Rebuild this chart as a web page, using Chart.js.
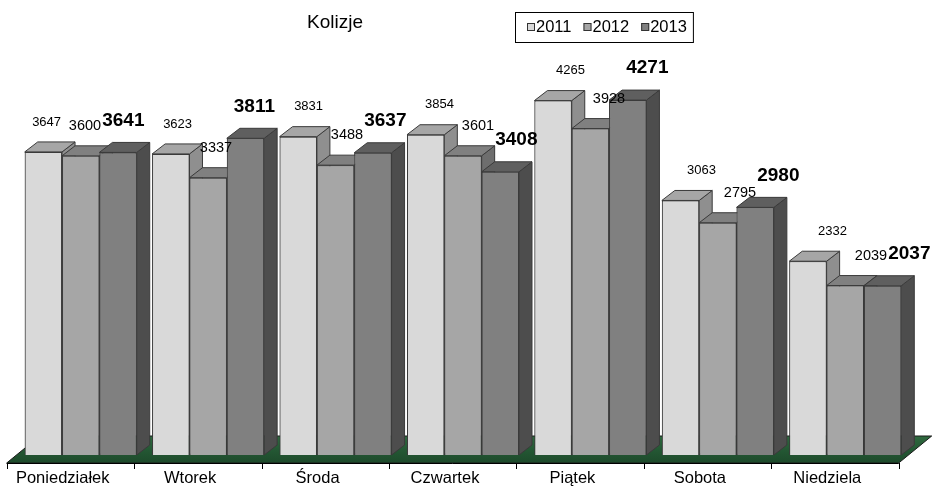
<!DOCTYPE html>
<html>
<head>
<meta charset="utf-8">
<title>Kolizje</title>
<script src="https://cdn.jsdelivr.net/npm/chart.js@4/dist/chart.umd.min.js"></script>
<style>
  html, body { margin: 0; padding: 0; background: #ffffff; }
  #chart { display: block; }
</style>
</head>
<body>
<canvas id="chart" width="936" height="495"></canvas>
<script>
// Collisions per weekday, three years
const titleText = 'Kolizje';
const categories = ['Poniedziałek', 'Wtorek', 'Środa', 'Czwartek', 'Piątek', 'Sobota', 'Niedziela'];
const seriesNames = ['2011', '2012', '2013'];
const values2011 = [3647, 3623, 3831, 3854, 4265, 3063, 2332];
const values2012 = [3600, 3337, 3488, 3601, 3928, 2795, 2039];
const values2013 = [3641, 3811, 3637, 3408, 4271, 2980, 2037];
const axisMin = 0;
const axisMax = 5000;

const FONT = "'Liberation Sans', Arial, sans-serif";

// face colours: front, top, side
const palette = [
  { front: '#d9d9d9', top: '#a6a6a6', side: '#8f8f8f' },
  { front: '#a6a6a6', top: '#808080', side: '#6e6e6e' },
  { front: '#808080', top: '#5f5f5f', side: '#4d4d4d' }
];
const labelFonts = ['13px ' + FONT, '14.5px ' + FONT, 'bold 19px ' + FONT];
const labelLift = [30, 30, 32];

// oblique depth of each column and of the floor
const DEPTH = { dx: 13, dy: 10 };
const FLOOR = { shiftX: -10.3, front: 8, back: 19, depthX: 33 };
const EDGE = '#3a3a3a';

// Floor slab and category axis in front of the columns
const floorPlugin = {
  id: 'floor',
  beforeDatasetsDraw(chart) {
    const { ctx, chartArea } = chart;
    const yScale = chart.scales.y;
    const base = yScale.getPixelForValue(0);
    const l = chartArea.left + FLOOR.shiftX;
    const r = chartArea.right + FLOOR.shiftX;
    const yf = base + FLOOR.front;
    const yb = base - FLOOR.back;
    ctx.save();
    const g = ctx.createLinearGradient(0, yb, 0, yf);
    g.addColorStop(0, '#2f6a3f');
    g.addColorStop(0.5, '#245834');
    g.addColorStop(1, '#1d4a2b');
    ctx.fillStyle = g;
    ctx.beginPath();
    ctx.moveTo(l, yf);
    ctx.lineTo(r, yf);
    ctx.lineTo(r + FLOOR.depthX, yb);
    ctx.lineTo(l + FLOOR.depthX, yb);
    ctx.closePath();
    ctx.fill();
    ctx.strokeStyle = '#1a1a1a';
    ctx.lineWidth = 1;
    ctx.stroke();
    // axis line with category boundary ticks
    const n = chart.data.labels.length;
    const cw = (chartArea.right - chartArea.left) / n;
    ctx.strokeStyle = '#000000';
    ctx.beginPath();
    ctx.moveTo(l, Math.round(yf) + 0.5);
    ctx.lineTo(r, Math.round(yf) + 0.5);
    for (let k = 0; k <= n; k++) {
      const tx = Math.round(l + k * cw) + 0.5;
      ctx.moveTo(tx, Math.round(yf));
      ctx.lineTo(tx, Math.round(yf) + 6);
    }
    ctx.stroke();
    ctx.restore();
  }
};

// Top and side faces of each column, then the front face again on top,
// drawn left to right so nearer columns hide the sides of their neighbours
const columnsPlugin = {
  id: 'columns3d',
  afterDatasetsDraw(chart) {
    const { ctx } = chart;
    const n = chart.data.labels.length;
    const metas = chart.data.datasets.map((_, d) => chart.getDatasetMeta(d));
    ctx.save();
    ctx.lineWidth = 1;
    ctx.strokeStyle = EDGE;
    ctx.lineJoin = 'round';
    for (let i = 0; i < n; i++) {
      metas.forEach((meta, d) => {
        const bar = meta.data[i];
        const { x, y, base, width } = bar.getProps(['x', 'y', 'base', 'width'], true);
        const x0 = x - width / 2;
        const x1 = x + width / 2;
        const c = palette[d];
        // side face
        ctx.fillStyle = c.side;
        ctx.beginPath();
        ctx.moveTo(x1, y);
        ctx.lineTo(x1 + DEPTH.dx, y - DEPTH.dy);
        ctx.lineTo(x1 + DEPTH.dx, base - DEPTH.dy);
        ctx.lineTo(x1, base);
        ctx.closePath();
        ctx.fill();
        ctx.stroke();
        // top face
        ctx.fillStyle = c.top;
        ctx.beginPath();
        ctx.moveTo(x0, y);
        ctx.lineTo(x1, y);
        ctx.lineTo(x1 + DEPTH.dx, y - DEPTH.dy);
        ctx.lineTo(x0 + DEPTH.dx, y - DEPTH.dy);
        ctx.closePath();
        ctx.fill();
        ctx.stroke();
        // front face
        bar.draw(ctx);
      });
    }
    // value labels
    ctx.fillStyle = '#000000';
    ctx.textAlign = 'center';
    ctx.textBaseline = 'middle';
    metas.forEach((meta, d) => {
      const data = chart.data.datasets[d].data;
      meta.data.forEach((bar, i) => {
        const { x, y } = bar.getProps(['x', 'y'], true);
        ctx.font = labelFonts[d];
        ctx.fillText(String(data[i]), x + 2 + 0.028 * x, y - labelLift[d]);
      });
    });
    ctx.restore();
  }
};

// Title and boxed legend
const headerPlugin = {
  id: 'header',
  afterDraw(chart) {
    const { ctx } = chart;
    ctx.save();
    ctx.fillStyle = '#000000';
    ctx.textBaseline = 'middle';
    ctx.textAlign = 'center';
    ctx.font = '19px ' + FONT;
    ctx.fillText(titleText, 335, 23);

    ctx.font = '16.5px ' + FONT;
    ctx.textAlign = 'left';
    const boxLeft = 515, boxTop = 12, boxH = 30;
    const padL = 12, padR = 6, marker = 8, gap = 12;
    let cx = boxLeft + padL;
    const items = chart.data.datasets.map((ds, d) => {
      const w = ctx.measureText(ds.label).width;
      const it = { x: cx, w, d, label: ds.label };
      cx += marker + 1 + w + gap;
      return it;
    });
    const boxW = cx - gap + padR - boxLeft;
    ctx.strokeStyle = '#000000';
    ctx.lineWidth = 1;
    ctx.strokeRect(boxLeft + 0.5, boxTop + 0.5, boxW, boxH);
    const cy = boxTop + boxH / 2;
    items.forEach(it => {
      ctx.fillStyle = palette[it.d].front;
      ctx.fillRect(it.x, cy - 4, marker, marker);
      ctx.strokeStyle = '#333333';
      ctx.strokeRect(it.x + 0.5, cy - 3.5, marker - 1, marker - 1);
      ctx.fillStyle = '#000000';
      ctx.fillText(it.label, it.x + marker + 1, cy + 0.5);
    });
    ctx.restore();
  }
};

const seriesValues = [values2011, values2012, values2013];

new Chart(document.getElementById('chart'), {
  type: 'bar',
  data: {
    labels: categories,
    datasets: seriesNames.map((name, d) => ({
      label: name,
      data: seriesValues[d],
      backgroundColor: palette[d].front,
      borderColor: EDGE,
      borderWidth: 1,
      categoryPercentage: 0.879,
      barPercentage: 1
    }))
  },
  options: {
    responsive: false,
    animation: false,
    events: [],
    layout: { padding: { left: 17, right: 27, top: 39.5, bottom: -7.8 } },
    plugins: {
      legend: { display: false },
      title: { display: false },
      tooltip: { enabled: false }
    },
    scales: {
      x: {
        grid: { display: false, drawTicks: false },
        border: { display: false },
        ticks: {
          color: '#000000',
          font: { family: FONT, size: 16.5 },
          padding: 14,
          labelOffset: -18,
          maxRotation: 0,
          autoSkip: false
        }
      },
      y: { display: false, min: axisMin, max: axisMax }
    }
  },
  plugins: [floorPlugin, columnsPlugin, headerPlugin]
});
</script>
</body>
</html>
